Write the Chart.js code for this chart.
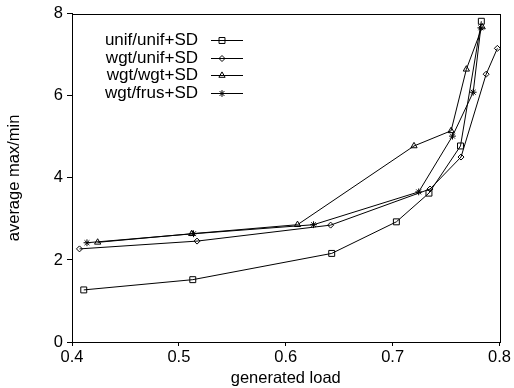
<!DOCTYPE html>
<html>
<head>
<meta charset="utf-8">
<script src="https://cdn.jsdelivr.net/npm/chart.js@4.4.1/dist/chart.umd.min.js"></script>
<style>
html,body{margin:0;padding:0;background:#fff;}
#wrap{width:514px;height:388px;}
</style>
</head>
<body>
<div id="wrap"><canvas id="c" width="514" height="388"></canvas></div>
<script>
// ---- data ----
const seriesNames = ["unif/unif+SD", "wgt/unif+SD", "wgt/wgt+SD", "wgt/frus+SD"];
const unifUnifX = [0.411, 0.513, 0.643, 0.7035, 0.734, 0.7635, 0.783];
const unifUnifY = [1.27, 1.52, 2.16, 2.93, 3.63, 4.78, 7.82];
const wgtUnifX  = [0.407, 0.517, 0.642, 0.735, 0.764, 0.7875, 0.798];
const wgtUnifY  = [2.27, 2.46, 2.85, 3.73, 4.51, 6.53, 7.16];
const wgtWgtX   = [0.424, 0.512, 0.611, 0.720, 0.7547, 0.769, 0.7838];
const wgtWgtY   = [2.43, 2.64, 2.86, 4.78, 5.15, 6.65, 7.68];
const wgtFrusX  = [0.414, 0.5137, 0.626, 0.7244, 0.756, 0.7754, 0.7825];
const wgtFrusY  = [2.42, 2.64, 2.86, 3.66, 5.02, 6.09, 7.66];
const xTicks = [0.4, 0.5, 0.6, 0.7, 0.8];
const yTicks = [0, 2, 4, 6, 8];

const FONT = '"Liberation Sans", Arial, Helvetica, sans-serif';
const pts = (xs, ys) => xs.map((x, i) => ({x: x, y: ys[i]}));
const styles = [
  {pointStyle: 'rect', radius: 4.2},
  {pointStyle: 'rectRot', radius: 3},
  {pointStyle: 'triangle', radius: 3.6},
  {pointStyle: 'star', radius: 3.4}
];
const allX = [unifUnifX, wgtUnifX, wgtWgtX, wgtFrusX];
const allY = [unifUnifY, wgtUnifY, wgtWgtY, wgtFrusY];

const datasets = seriesNames.map((n, i) => ({
  label: n,
  data: pts(allX[i], allY[i]),
  borderColor: '#000',
  backgroundColor: '#fff',
  borderWidth: 1,
  pointStyle: styles[i].pointStyle,
  pointRadius: styles[i].radius,
  pointBorderColor: '#000',
  pointBackgroundColor: 'rgba(0,0,0,0)',
  pointBorderWidth: 1,
  tension: 0,
  fill: false,
  clip: false
}));

function drawMarker(ctx, style, r, x, y) {
  ctx.save();
  ctx.strokeStyle = '#000';
  ctx.lineWidth = 1;
  ctx.beginPath();
  if (style === 'rect') {
    const s = r * Math.SQRT1_2;
    ctx.rect(x - s, y - s, 2 * s, 2 * s);
  } else if (style === 'rectRot') {
    ctx.moveTo(x, y - r); ctx.lineTo(x + r, y); ctx.lineTo(x, y + r); ctx.lineTo(x - r, y); ctx.closePath();
  } else if (style === 'triangle') {
    const a = r * 1.5 / Math.sqrt(3) * 1.0;
    ctx.moveTo(x, y - r); ctx.lineTo(x + r * 0.866, y + r * 0.5); ctx.lineTo(x - r * 0.866, y + r * 0.5); ctx.closePath();
  } else if (style === 'star') {
    ctx.moveTo(x - r, y); ctx.lineTo(x + r, y);
    ctx.moveTo(x, y - r); ctx.lineTo(x, y + r);
    const d = r * Math.SQRT1_2;
    ctx.moveTo(x - d, y - d); ctx.lineTo(x + d, y + d);
    ctx.moveTo(x - d, y + d); ctx.lineTo(x + d, y - d);
  }
  ctx.stroke();
  ctx.restore();
}

const framePlugin = {
  id: 'frame',
  afterDraw(chart) {
    const {ctx, chartArea: a} = chart;
    ctx.save();
    ctx.strokeStyle = '#000';
    ctx.lineWidth = 1;
    ctx.strokeRect(Math.round(a.left) + 0.5, Math.round(a.top) + 0.5, Math.round(a.right - a.left), Math.round(a.bottom - a.top));
    ctx.restore();
    // legend
    ctx.save();
    ctx.font = '17px ' + FONT;
    ctx.fillStyle = '#000';
    ctx.textAlign = 'right';
    ctx.textBaseline = 'middle';
    seriesNames.forEach((n, i) => {
      const y = 40 + i * 17.6;
      ctx.fillText(n, 198, y + 0.5);
      ctx.strokeStyle = '#000';
      ctx.lineWidth = 1;
      ctx.beginPath();
      ctx.moveTo(211, Math.round(y) + 0.5);
      ctx.lineTo(243, Math.round(y) + 0.5);
      ctx.stroke();
      drawMarker(ctx, styles[i].pointStyle, styles[i].radius, 222, Math.round(y) + 0.5);
    });
    ctx.restore();
  }
};

new Chart(document.getElementById('c'), {
  type: 'line',
  data: {datasets: datasets},
  options: {
    responsive: false,
    animation: false,
    devicePixelRatio: 1,
    layout: {padding: {top: 11, right: 14.5, left: 0, bottom: 0}},
    plugins: {legend: {display: false}, tooltip: {enabled: false}},
    scales: {
      x: {
        type: 'linear', min: 0.4, max: 0.8,
        afterBuildTicks: s => { s.ticks = xTicks.map(v => ({value: v})); },
        afterFit: s => { s.height = 46; },
        ticks: {color: '#000', font: {family: FONT, size: 16.5}, padding: 2, callback: v => v.toFixed(1), maxRotation: 0, autoSkip: false},
        grid: {drawOnChartArea: false, drawTicks: true, tickLength: 4, color: '#000', tickColor: '#000'},
        border: {color: '#000', width: 1},
        title: {display: true, text: 'generated load', color: '#000', font: {family: FONT, size: 16.5}, padding: {top: 0, bottom: 0}}
      },
      y: {
        type: 'linear', min: 0, max: 8,
        afterBuildTicks: s => { s.ticks = yTicks.map(v => ({value: v})); },
        afterFit: s => { s.width = 72; },
        ticks: {color: '#000', font: {family: FONT, size: 16.5}, padding: 4, callback: v => String(v)},
        grid: {drawOnChartArea: false, drawTicks: true, tickLength: 5, color: '#000', tickColor: '#000'},
        border: {color: '#000', width: 1},
        title: {display: true, text: 'average max/min', color: '#000', font: {family: FONT, size: 16.5}, padding: {top: 5, bottom: 0}}
      }
    }
  },
  plugins: [framePlugin]
});
</script>
</body>
</html>
